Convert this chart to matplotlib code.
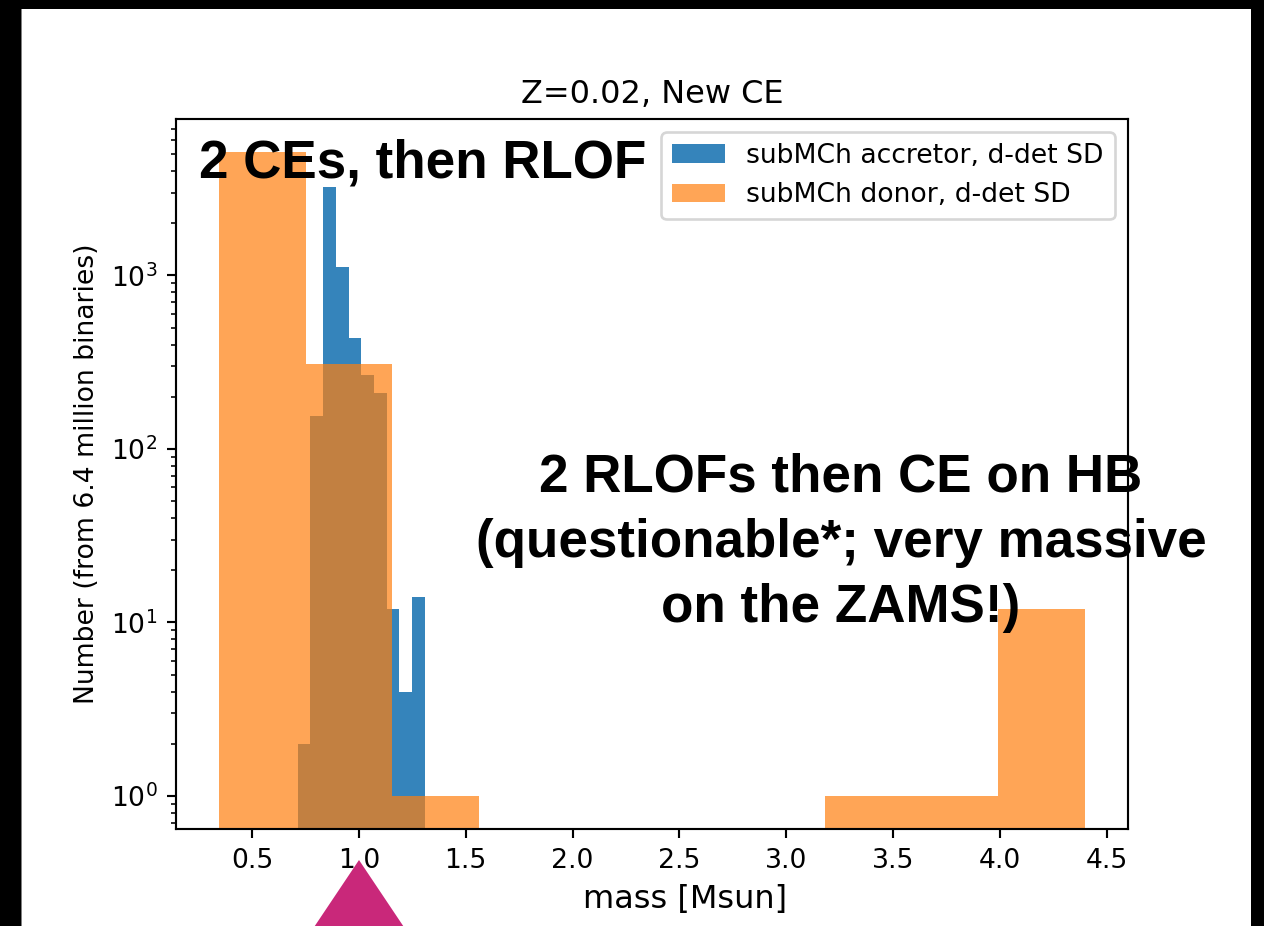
import matplotlib
matplotlib.use('Agg')
import matplotlib.pyplot as plt
from matplotlib.patches import Rectangle, Polygon

# histogram bins and counts for the two sub-Chandrasekhar populations
accretor_edges = [0.7135, 0.7731, 0.8327, 0.8923, 0.9519, 1.0115,
                  1.0711, 1.1307, 1.1903, 1.2499, 1.3095]
accretor_counts = [2, 155, 3220, 1124, 436, 267, 211, 12, 4, 14]

donor_edges = [0.347, 0.752, 1.157, 1.562, 1.967, 2.372,
               2.777, 3.182, 3.587, 3.992, 4.397]
donor_counts = [5130, 309, 1, 0, 0, 0, 0, 1, 1, 12]

W, H = 1264, 926
DPI = 192

fig = plt.figure(figsize=(W / DPI, H / DPI), dpi=DPI)
ax = fig.add_axes([176 / W, 97 / H, 952 / W, 710 / H])

ax.hist(accretor_edges[:-1], bins=accretor_edges, weights=accretor_counts,
        color='C0', alpha=0.9, log=True, label='subMCh accretor, d-det SD')
ax.hist(donor_edges[:-1], bins=donor_edges, weights=donor_counts,
        color='C1', alpha=0.7, log=True, label='subMCh donor, d-det SD')

ax.set_ylim(0.645, 7980)
ax.set_xlabel('mass [Msun]', fontsize=12, x=0.535)
ax.set_ylabel('Number (from 6.4 million binaries)')
ax.set_title('Z=0.02, New CE')
ax.legend(loc='upper right')

# slide-style annotations on top of the plot
big = dict(family='Liberation Sans', weight='bold', color='black')
fig.text(199 / W, 1 - 177 / H, '2 CEs, then RLOF', fontsize=19.9,
         ha='left', va='baseline', **big)
lines = ['2 RLOFs then CE on HB',
         '(questionable*; very massive',
         'on the ZAMS!)']
for i, s in enumerate(lines):
    fig.text(841 / W, 1 - (492 + 65 * i) / H, s, fontsize=19.9,
             ha='center', va='baseline', **big)

# marker arrow below the 1.0 tick
tri = Polygon([(359 / W, 1 - 860 / H), (292 / W, 1 - 960 / H), (426 / W, 1 - 960 / H)],
              closed=True, transform=fig.transFigure, facecolor='#c9287a',
              edgecolor='none', clip_on=False)
fig.patches.append(tri)

# black frame around the screen capture
for x0, y0, w, h in [(0, 0, 21, H), (1251, 0, W - 1251, H), (0, 0, W, 9)]:
    fig.patches.append(Rectangle((x0 / W, 1 - (y0 + h) / H), w / W, h / H,
                                 transform=fig.transFigure, facecolor='black',
                                 edgecolor='none'))
fig.patches.append(Rectangle((21 / W, 0), 1 / W, 1 - 9 / H,
                             transform=fig.transFigure, facecolor='#808080',
                             edgecolor='none'))

fig.savefig('out.png', dpi=DPI)
